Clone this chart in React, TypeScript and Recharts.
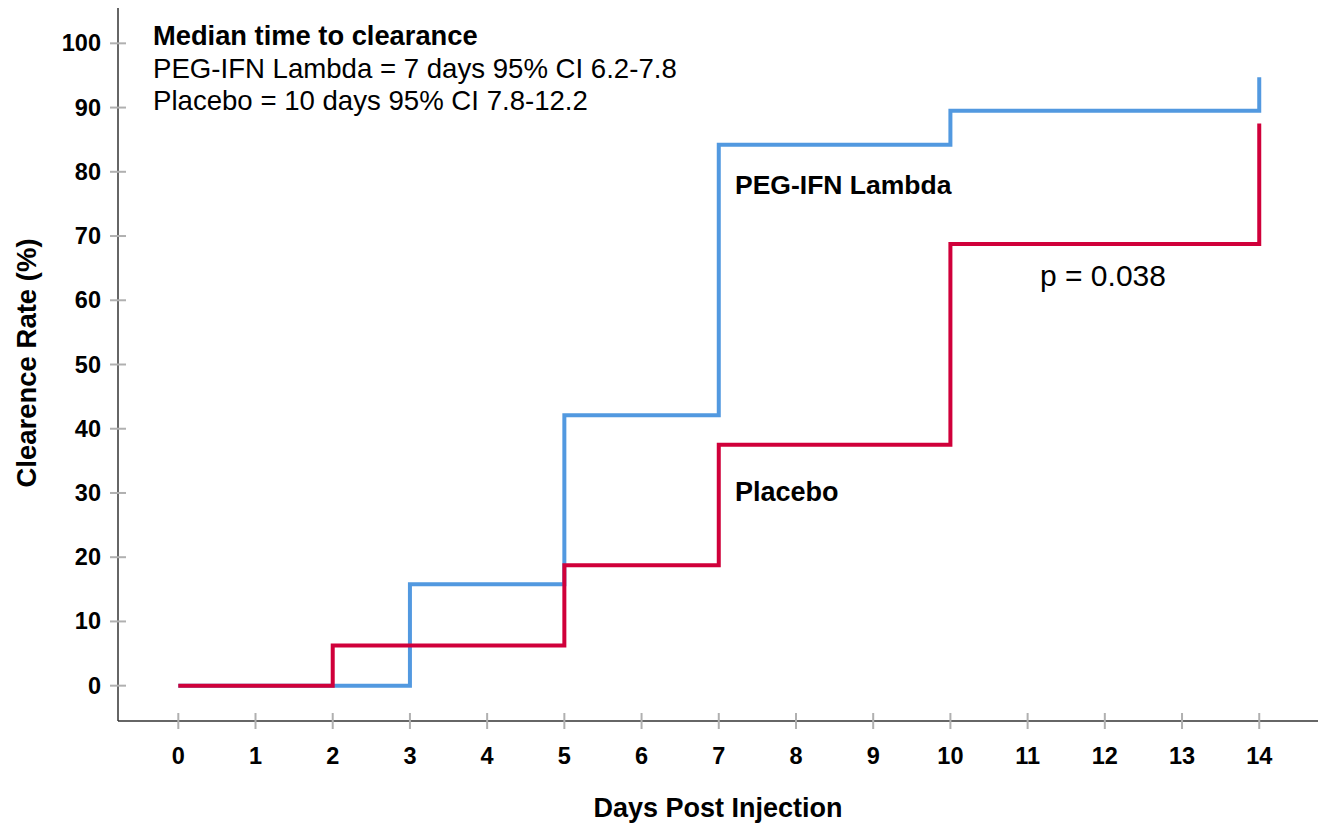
import { LineChart, Line, XAxis, YAxis, Customized } from "recharts";

// Kaplan-Meier style cumulative clearance (%)
const days = [0, 2, 3, 5, 7, 10, 14];
const pegIfn = [0, 0, 15.8, 42.1, 84.2, 89.5, 94.7];
const placebo = [0, 6.25, 6.25, 18.75, 37.5, 68.75, 87.5];

const xTicks = [0, 1, 2, 3, 4, 5, 6, 7, 8, 9, 10, 11, 12, 13, 14];
const yTicks = [0, 10, 20, 30, 40, 50, 60, 70, 80, 90, 100];

const summaryLines = [
  "PEG-IFN Lambda = 7 days 95% CI 6.2-7.8",
  "Placebo = 10 days 95% CI 7.8-12.2",
];

const data = days.map((d, i) => ({ day: d, peg: pegIfn[i], placebo: placebo[i] }));

const FONT = "'Liberation Sans', Arial, sans-serif";
const BLUE = "#5299e0";
const RED = "#d0003a";

const XTick = ({ x, y, payload }: any) => (
  <g>
    <line x1={x} x2={x} y1={y - 8} y2={y + 8} stroke="#b0b0b0" strokeWidth={2} />
    <text x={x} y={y + 43} textAnchor="middle" fontFamily={FONT} fontWeight="bold" fontSize={23.5} fill="#000">
      {payload.value}
    </text>
  </g>
);

const YTick = ({ x, y, payload }: any) => (
  <g>
    <line x1={x - 8} x2={x + 8} y1={y} y2={y} stroke="#b0b0b0" strokeWidth={2} />
    <text x={x - 17} y={y + 8} textAnchor="end" fontFamily={FONT} fontWeight="bold" fontSize={23.5} fill="#000">
      {payload.value}
    </text>
  </g>
);

const Annotations = () => (
  <g fontFamily={FONT} fill="#000">
    <text x={153} y={45} fontSize={27.3} fontWeight="bold">Median time to clearance</text>
    {summaryLines.map((t, i) => (
      <text key={t} x={153} y={77.5 + i * 32.5} fontSize={27.6}>{t}</text>
    ))}
    <text x={735} y={194} fontSize={26.5} fontWeight="bold">PEG-IFN Lambda</text>
    <text x={735} y={501} fontSize={27} fontWeight="bold">Placebo</text>
    <text x={1040} y={286} fontSize={30}>p = 0.038</text>
    <text x={718} y={817} fontSize={27} fontWeight="bold" textAnchor="middle">Days Post Injection</text>
    <text x={36} y={363} fontSize={27.5} fontWeight="bold" textAnchor="middle" transform="rotate(-90 36 363)">
      Clearence Rate (%)
    </text>
  </g>
);

export default function App() {
  return (
    <div style={{ position: "absolute", left: 0, top: 0, width: 1324, height: 825, background: "#fff" }}>
      <LineChart width={1324} height={825} data={data} margin={{ top: 8, right: 6, left: 0, bottom: 0 }}>
        <XAxis
          type="number"
          dataKey="day"
          domain={[-0.781, 14.761]}
          ticks={xTicks}
          interval={0}
          allowDataOverflow
          height={104}
          tickSize={0}
          tickMargin={0}
          tickLine={false}
          tick={<XTick />}
          axisLine={{ stroke: "#333", strokeWidth: 1.5 }}
        />
        <YAxis
          type="number"
          domain={[-5.5, 105.5]}
          ticks={yTicks}
          interval={0}
          allowDataOverflow
          width={118}
          tickSize={0}
          tickMargin={0}
          tickLine={false}
          tick={<YTick />}
          axisLine={{ stroke: "#333", strokeWidth: 1.5 }}
        />
        <Line type="stepAfter" dataKey="peg" stroke={BLUE} strokeWidth={4} dot={false} isAnimationActive={false} />
        <Line type="stepAfter" dataKey="placebo" stroke={RED} strokeWidth={4} dot={false} isAnimationActive={false} />
        <Customized component={Annotations} />
      </LineChart>
    </div>
  );
}
